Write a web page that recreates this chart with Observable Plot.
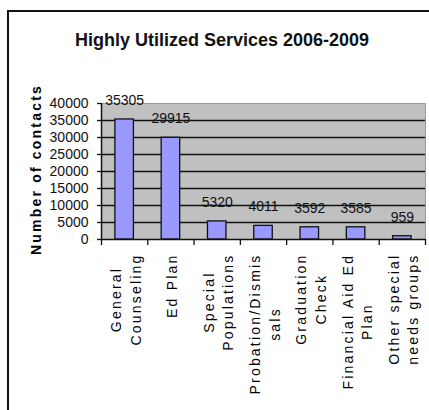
<!DOCTYPE html>
<html>
<head>
<meta charset="utf-8">
<script src="https://cdn.jsdelivr.net/npm/d3@7"></script>
<script src="https://cdn.jsdelivr.net/npm/@observablehq/plot@0.6"></script>
<style>
  html, body { margin: 0; padding: 0; background: #fff; width: 429px; height: 410px; overflow: hidden; }
  #frame { position: absolute; left: 7px; top: 10px; width: 600px; height: 600px;
           border-left: 2px solid #111; border-top: 2px solid #111; }
  #title { position: absolute; left: 8px; width: 428px; top: 30px; text-align: center;
           font-family: 'Liberation Sans', Arial, sans-serif; font-weight: bold; font-size: 18px; color: #111; }
  #chart { position: absolute; left: 0; top: 60px; }
  g[fill="#000001"] text, g[fill="#000002"] text { letter-spacing: 2.2px; }
</style>
</head>
<body>
<div id="frame"></div>
<div id="title">Highly Utilized Services 2006-2009</div>
<div id="chart"></div>
<script>
const categories = [
  "General\nCounseling",
  "Ed Plan",
  "Special\nPopulations",
  "Probation/Dismis\nsals",
  "Graduation\nCheck",
  "Financial Aid Ed\nPlan",
  "Other special\nneeds groups"
];
const values = [35305, 29915, 5320, 4011, 3592, 3585, 959];
const yTicks = [0, 5000, 10000, 15000, 20000, 25000, 30000, 35000, 40000];
const yLabel = "Number of contacts";

const data = categories.map((c, i) => ({i, category: c, value: values[i]}));

const font = "'Liberation Sans', Arial, sans-serif";
const ctx = document.createElement("canvas").getContext("2d");
ctx.font = "14px 'Liberation Sans', Arial";
const ls = 2.2;
const maxLen = s => Math.max(...s.split("\n").map(l => ctx.measureText(l).width + ls * l.length));

const labelMarks = data.map(d => Plot.text([d], {
  x: e => e.i + 0.5,
  text: e => e.category,
  frameAnchor: "bottom",
  rotate: -90,
  textAnchor: "middle",
  lineAnchor: "middle",
  lineHeight: 1.4,
  fontSize: 14,
  fill: "#000002",
  dy: 14 + maxLen(d.category) / 2
}));

const chart = Plot.plot({
  width: 429,
  height: 350,
  marginLeft: 101,
  marginRight: 4,
  marginTop: 43,
  marginBottom: 171,
  style: {fontFamily: font, fontSize: "14px", background: "transparent", overflow: "visible", color: "#111"},
  x: {domain: [0, categories.length], axis: null},
  y: {domain: [0, 40000], axis: null},
  marks: [
    Plot.frame({fill: "#C0C0C0", stroke: "#9a9a9a"}),
    Plot.ruleY(yTicks.filter(t => t > 0 && t < 40000), {stroke: "#111", strokeWidth: 1.3}),
    Plot.rectY(data, {x1: d => d.i + 0.3, x2: d => d.i + 0.7, y: "value", fill: "#9999FF", stroke: "#111", strokeWidth: 1.3}),
    Plot.ruleY([0], {stroke: "#111", strokeWidth: 1.5}),
    Plot.ruleX([0], {stroke: "#111", strokeWidth: 1.5}),
    Plot.ruleX(d3.range(categories.length + 1), {y1: 0, y2: 0, insetBottom: -6, stroke: "#111", strokeWidth: 1.3}),
    Plot.axisY(yTicks, {label: null, tickSize: 4, tickPadding: 9, fontSize: 14, tickFormat: d3.format("d"), stroke: "#111", strokeWidth: 1.3}),
    Plot.text(data, {x: d => d.i + 0.5, y: "value", text: d => String(d.value), dy: -19, fontSize: 14, fill: "#111"}),
    Plot.text([yLabel], {frameAnchor: "left", rotate: -90, textAnchor: "middle", dx: -65, dy: -2, fontWeight: "bold", fontSize: 14, fill: "#000001"}),
    ...labelMarks
  ]
});
document.getElementById("chart").appendChild(chart);
</script>
</body>
</html>
